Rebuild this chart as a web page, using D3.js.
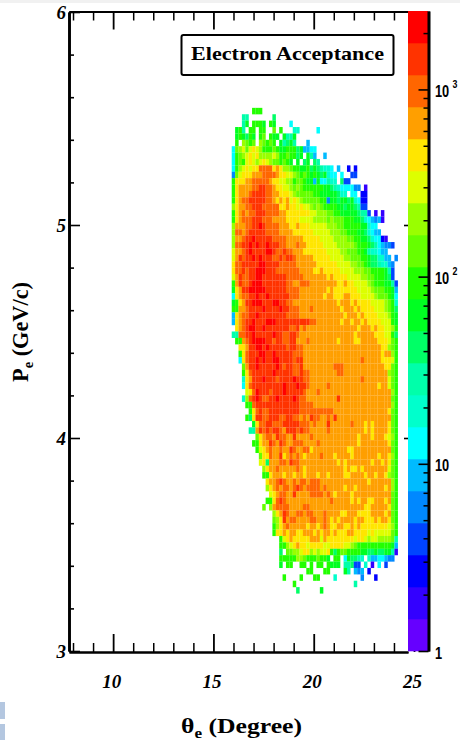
<!DOCTYPE html>
<html>
<head>
<meta charset="utf-8">
<script src="https://cdn.jsdelivr.net/npm/d3@7"></script>
<style>
  html, body { margin: 0; padding: 0; background: #fff; }
  svg { display: block; }
  .serif { font-family: "Liberation Serif", serif; font-weight: bold; fill: #000; }
  .sans { font-family: "Liberation Sans", sans-serif; font-weight: bold; fill: #000; font-size: 16px; }
  .tick-label text { font-family: "Liberation Serif", serif; font-weight: bold; font-style: italic; font-size: 19px; fill: #000; }
</style>
</head>
<body>
<svg width="460" height="740"></svg>
<script>
// axis ticks
var thetaMajor = [10, 15, 20, 25];
var thetaMinor = [8, 9, 11, 12, 13, 14, 16, 17, 18, 19, 21, 22, 23, 24];
var pMajor = [3, 4, 5, 6];
var pMinor = [3.2, 3.4, 3.6, 3.8, 4.2, 4.4, 4.6, 4.8, 5.2, 5.4, 5.6, 5.8];
var zLabels = [1, 10, 100, 1000];
var zMinor = [2, 3, 4, 5, 6, 7, 8, 9, 20, 30, 40, 50, 60, 70, 80, 90, 200, 300, 400, 500, 600, 700, 800, 900, 2000];
var zBandColors = ["#6600ff", "#3300ff", "#0000ff", "#0044ff", "#0088ff", "#00bbff", "#00ffff", "#00ffcc",
  "#00ffaa", "#00ff66", "#00ff22", "#22ff00", "#66ff00", "#99ff00", "#ddff00", "#ffe600", "#ff9f00", "#ff6600", "#ff3300", "#ff0000"];

// histogram bins, 100 x 100
var thetaBinStart = 7.8, thetaBinWidth = 0.169;
var pBinStart = 6, pBinHeight = 0.03;
var firstCol = 48, firstRow = 15;

// one string per P bin, one char per theta bin: colour band 0-9,a-j of zBandColors, "." is empty
// (spaces only group the columns in tens)
var cellRows = [
  "......bbb.",
  "...88..... ..9",
  "...8a.bbba .ba....6",
  ".ab8.bb.bb ..c.b...77 .....6",
  ".aba9ba.bc .baa.a88a.",
  ".b.dcbc.dc bcb.a89a8. ..5",
  "6cdecefedb bbcbaabbb9 a5566",
  "6bcdefefdd ddedbbcbb9 a.a85..5",
  "6bcbefedef edccbcba.a .9a.98",
  "6bdefeffhh hhfgfddcbb aab9a98776 .5..2.2",
  "4cefffgggh hhhgffeedc bcbaba9a76 6.6..33",
  "bfffgghhhh hgffeeddbc cbaa5a6687 7.933",
  "bfgggghhii hhgffeedcd cbbbbbbaa9 87666644.1",
  "bfggghiiii hhggfffedc ccccbbaaaa a977.66.22",
  "bfghhiiiii hhgfgfgefe dcccccbb4a a9aa9a7622",
  "dfgghhiiih hhhhffgffe feedcdcbbb baa9aa9833",
  "bfghghhiii hhhhggffff fffeedddcc bbaaaaa988 3.1.1",
  "bfghhhiiih hhggggffff eeeeddddcd cccbbbaa97 65451",
  "dggghhiiji hhhhgggffg fffeeeeedd dccbbbbbaa 766",
  "dhhghiiiii hhhhggggff ffffeeeeed ddccbbbaa9 7655",
  "dgghiijiii iihhhhgggg gfffffeeee ddddccbbaa 976621",
  "dhhiijijii jiiihhgggh ggfffffeee edddddcbbb a9865443",
  "egghijiiii jjihhihhgg gfffffffee eeddcccbba 877655",
  "egihiijiji iihhihiihg ggggfffffe eeeddcccbb a997755.4",
  "fhhiiiiijj iiiihhhhhg gggggfffff feeeeddccb a9987754",
  "fhhihiijjj iiihhhhhhh ggggffgfff ffeeeedddc cbbbba83",
  "egihhiijji iiiiiihhhh hgggggggfg ffffeeeedd ccbbba93",
  "bgihhijjji iiiiiihhgg hhhggggggg gffgffeeee dcbbbaa83",
  "afgiijjjjj iiiiiihhhh ggggggggfg fffffffeee edcccbba5",
  "6fghhiijii jiiiiiihhh gggggggfgg fffggfffee eedcccba6",
  "abfgiijjji iijjiihhgg gggggggggg gfgggfgfff feeeedcb7",
  "bbgghiiiij iiiijiihhh ggghgggggg ggfgggfgff ffeeedcb9",
  "5fghhiijii iiiiiihhhh gggggggggg gggfgggfgf fffeeedba",
  "5fghiijiii jjjiiiiiii iiihhggggg ggfggfggfg ffffeeeba",
  ".fghijjiij iiiiiiihhi ghgggggggg gggggggfgg gfgffeedb",
  "88hhiijiii iijiihhiih gggggggggg ggggggfggg ggfffeeb9",
  ".bbghijjjj iihiihhiig gghggggggg gfggggffgg gggfffecb",
  "..ffgiijji jiiiiihiih hggggggggg gggggggggg ggggffdcb",
  "..bfhiiijj iijiiiiihh hggggggggg gggggggggg ggggfggdb",
  "..6fhiijij iijjiiiihi iggggggggg gggggggghg ggggfffeb",
  "...cgiijii iiijihiihh iggggggggg hhhggggggg gggggffcb",
  "...bfhiiii iijiiiiihh ihhggggggg ghhggggggg ggggggdcb",
  "...7fgiiij iiihiiiiji ihhggggggg gggggggghg ggggggecb",
  "...6fhiiii iiiiijiiij iihggggghg gggggggggg gggfggecb",
  "....efhjii ihiiijiiii ihggghgggg gggggggggg gggggggdb",
  "...7dhijih hiijiiiiji hhgggggggg gigggggggg gggggggcb",
  "....bbhiii iiiiiiiiii hhhhgggggg gggggggggg gggggggdb",
  ".....bfhih hiiiiiiiii hhhhhhhhhh gggggggggg ggggggfcb",
  "....b9fiih hiiihhiihh ghgihhgghg iggggggggg gggggggcb",
  "......afhh iihhhiiiii hhhghgggig ggggghgggf gfggggfcb",
  ".....88gih ihiihgiiih ihhggggghg gggggggggf gfggggfcb",
  ".......cfg hhgihhggig ggghgggggg gggggggfgg gfgggfedb",
  "......bbfg gihgihgghh hgggghgggg gggggggfgg ggggggfcb",
  ".......bef ghgghggihg ghhfgggggg ggggffgggg gggggggcb",
  "........cf fhggifghgh gfgggghggg fggggfgggg gggfggfdb",
  "........ef 9ggghhgihh gggggggggg gfgfgggggg gfggfgfcb",
  ".........d fgghgggggh gfgggggggg gggfgffgfg ggggggecb",
  ".........b bfgggfggfg gfgggfggfg gggffggggf ggfggfdcb",
  ".......... fgghihgghg hhghhhgggg gggggggggg fggggggdb",
  ".......... dfghghhghi hghhhhghgg gggfggfggg gggggfgdb",
  ".......... .efghhggig ggghhhhghg fggggfgggg gggggggcb",
  ".......... bbfhihgggg gggggggggh gggggfgfgg ffgggfgcb",
  ".........c .dghhhhggg ghhggggggg gggggggggf fgggggfcb",
  ".......... ..dfgihggh hghhggghgg ggffgggfff fggggfgcb",
  ".......... ..cdfighhg ggghhgghgf gfggggfggf ffgfggfcb",
  ".......... ..bdfghggg ggfggfghgf fggffgfgff ffffffedb",
  ".......... ..bffgfggf fgggfgfggf gfffggffff efeeeeecb",
  ".......... ....befgff fffgggegff ffffffeffe deeddddc8",
  ".......... ....bbdefg ffeffffeef fffeedcbbb bbbbbbba5",
  ".......... ....9.ccdd effdedeefb 9bccbbbbaa 99a99aa81",
  ".......... ....bbbbbd dcbbbcbba. bb.6a9987. 75566544",
  ".......... ....a.bb.. bb.b.bb.ba aa.88933.7 .1.6.3",
  ".......... .......... ..bb...bb. ...a8.545. 2",
  ".......... .....b.... b...bb.... 7.......4. ..2",
  ".......... ........b. .......... ......8",
  ".......... .........9 ......a"
];

var svg = d3.select("svg");

var xScale = d3.scaleLinear().domain([7.8, 24.7]).range([69, 408]);
var yScale = d3.scaleLinear().domain([3, 6]).range([651, 12]);
var zScale = d3.scaleLog().domain([1, 2624]).range([651, 11]);

// bits of the scanned page around the figure
svg.append("rect").attr("width", 460).attr("height", 3).attr("fill", "#f1f1f1");
svg.append("rect").attr("x", 0).attr("y", 702).attr("width", 5).attr("height", 17).attr("fill", "#b4c7e0");
svg.append("rect").attr("x", 0).attr("y", 724).attr("width", 5).attr("height", 16).attr("fill", "#b4c7e0");

// cells
var cells = [];
cellRows.forEach(function (s, r) {
  s.replace(/ /g, "").split("").forEach(function (c, j) {
    if (c !== ".") cells.push({ col: firstCol + j, row: firstRow + r, level: parseInt(c, 36) });
  });
});

svg.append("g")
  .selectAll("rect")
  .data(cells)
  .enter()
  .append("rect")
  .attr("x", function (d) { return xScale(thetaBinStart + d.col * thetaBinWidth); })
  .attr("y", function (d) { return yScale(pBinStart - d.row * pBinHeight); })
  .attr("width", xScale(thetaBinStart + thetaBinWidth) - xScale(thetaBinStart) + 0.1)
  .attr("height", yScale(pBinStart - pBinHeight) - yScale(pBinStart) + 0.1)
  .attr("fill", function (d) { return zBandColors[d.level]; });

function styleAxis(g, lineWidth, tickWidth) {
  g.selectAll(".domain").attr("stroke", "#000").attr("stroke-width", lineWidth);
  g.selectAll(".tick line").attr("stroke", "#000").attr("stroke-width", tickWidth);
  return g;
}

// frame ticks point inward
var bottomMajor = d3.axisBottom(xScale).tickValues(thetaMajor).tickSizeInner(-18).tickSizeOuter(0).tickPadding(23).tickFormat(d3.format("d"));
var bottomMinor = d3.axisBottom(xScale).tickValues(thetaMinor).tickSizeInner(-9).tickSizeOuter(0).tickFormat("");
var topMajor = d3.axisTop(xScale).tickValues(thetaMajor).tickSizeInner(-18).tickSizeOuter(0).tickFormat("");
var topMinor = d3.axisTop(xScale).tickValues(thetaMinor).tickSizeInner(-9).tickSizeOuter(0).tickFormat("");
var leftMajor = d3.axisLeft(yScale).tickValues(pMajor).tickSizeInner(-11).tickSizeOuter(0).tickPadding(3).tickFormat(d3.format("d"));
var leftMinor = d3.axisLeft(yScale).tickValues(pMinor).tickSizeInner(-5).tickSizeOuter(0).tickFormat("");
var rightMajor = d3.axisRight(yScale).tickValues([4, 5]).tickSizeInner(-4).tickSizeOuter(0).tickFormat("");

var bottomG = styleAxis(svg.append("g").attr("class", "tick-label").attr("transform", "translate(0,652)").call(bottomMajor), 2, 1.8);
bottomG.selectAll("text").attr("dx", -2);
styleAxis(svg.append("g").attr("transform", "translate(0,652)").call(bottomMinor), 2, 1.5);
styleAxis(svg.append("g").attr("transform", "translate(0,11.5)").call(topMajor), 2, 1.8);
styleAxis(svg.append("g").attr("transform", "translate(0,11.5)").call(topMinor), 2, 1.5);
styleAxis(svg.append("g").attr("class", "tick-label").attr("transform", "translate(69,0)").call(leftMajor), 2.6, 1.6);
styleAxis(svg.append("g").attr("transform", "translate(69,0)").call(leftMinor), 2.6, 1.6);
var rightAxis = svg.append("g").attr("transform", "translate(408,0)").call(rightMajor);
styleAxis(rightAxis, 0, 1.6);
rightAxis.select(".domain").remove();

// colour bar
var zBandHeight = (zScale.range()[0] - zScale.range()[1]) / zBandColors.length;
svg.append("g")
  .selectAll("rect")
  .data(zBandColors)
  .enter()
  .append("rect")
  .attr("x", 408)
  .attr("y", function (d, i) { return zScale.range()[0] - (i + 1) * zBandHeight; })
  .attr("width", 20)
  .attr("height", zBandHeight + 0.3)
  .attr("fill", function (d) { return d; });

var zAxisMinor = d3.axisRight(zScale).tickValues(zMinor).tickSizeInner(-5).tickSizeOuter(0).tickFormat("");
var zAxisMajor = d3.axisRight(zScale).tickValues(zLabels).tickSizeInner(-10).tickSizeOuter(0).tickFormat("");
styleAxis(svg.append("g").attr("transform", "translate(428.5,0)").call(zAxisMinor), 2.6, 1.5);
styleAxis(svg.append("g").attr("transform", "translate(428.5,0)").call(zAxisMajor), 2.6, 1.6);

var zText = svg.append("g")
  .selectAll("text")
  .data(zLabels)
  .enter()
  .append("text")
  .attr("class", "sans")
  .attr("transform", function (d) { return "translate(435," + (zScale(d) + 7.5) + ") scale(0.8,1)"; });
zText.append("tspan").text(function (d) { return d < 100 ? String(d) : "10"; });
zText.filter(function (d) { return d >= 100; })
  .append("tspan")
  .attr("dx", 4)
  .attr("dy", -9)
  .attr("font-size", 11)
  .text(function (d) { return Math.round(Math.log10(d)); });

// title box
svg.append("rect")
  .attr("x", 181.5).attr("y", 35).attr("width", 212).attr("height", 40).attr("rx", 2)
  .attr("fill", "#fff").attr("stroke", "#000").attr("stroke-width", 2);
svg.append("text")
  .attr("class", "serif")
  .attr("x", 191).attr("y", 60)
  .attr("font-size", 19)
  .attr("textLength", 193)
  .attr("lengthAdjust", "spacingAndGlyphs")
  .text("Electron Acceptance");

// axis titles
var xTitle = svg.append("text").attr("class", "serif").attr("x", 181).attr("y", 733).attr("font-size", 21)
  .attr("textLength", 121).attr("lengthAdjust", "spacingAndGlyphs");
xTitle.append("tspan").text("θ");
xTitle.append("tspan").attr("dy", 5).attr("font-size", 14).text("e");
xTitle.append("tspan").attr("dy", -5).text(" (Degree)");

var yTitle = svg.append("text").attr("class", "serif").attr("transform", "translate(28,382) rotate(-90)").attr("font-size", 23)
  .attr("textLength", 100).attr("lengthAdjust", "spacingAndGlyphs");
yTitle.append("tspan").text("P");
yTitle.append("tspan").attr("dy", 5).attr("font-size", 15).text("e");
yTitle.append("tspan").attr("dy", -5).text(" (GeV/c)");
</script>
</body>
</html>
